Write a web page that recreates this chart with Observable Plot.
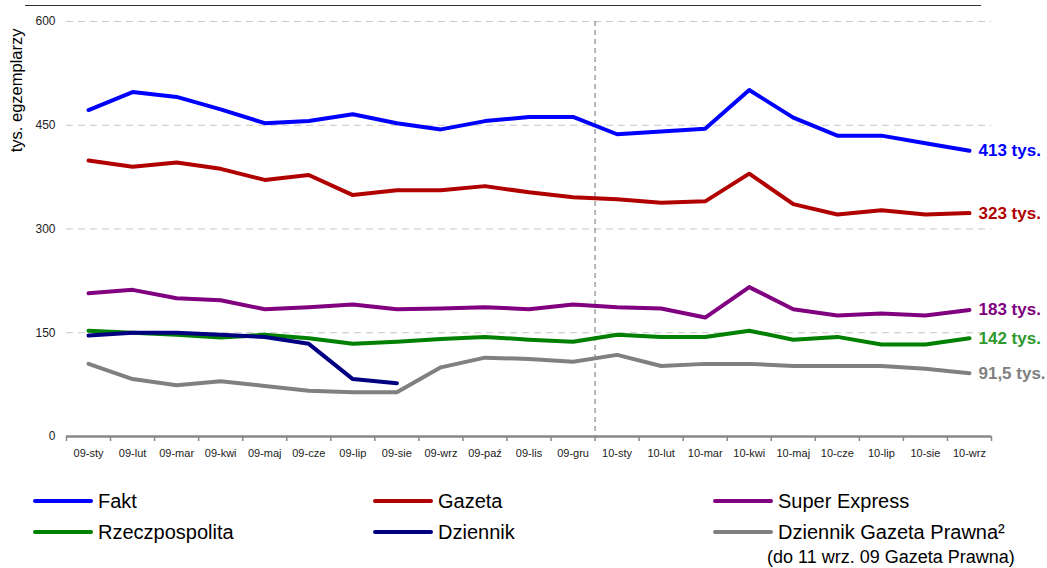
<!DOCTYPE html>
<html>
<head>
<meta charset="utf-8">
<script src="https://cdn.jsdelivr.net/npm/d3@7"></script>
<script src="https://cdn.jsdelivr.net/npm/@observablehq/plot@0.6"></script>
<style>
  body { margin: 0; background: #fff; font-family: "Liberation Sans", Arial, sans-serif; }
  #wrap { position: relative; width: 1047px; height: 568px; overflow: hidden; }
  #chart { position: absolute; left: 0; top: 0; }
  #topline { position: absolute; left: 25px; top: 5px; width: 956px; border-top: 1.5px solid #333; }
  .leg { position: absolute; height: 24px; line-height: 24px; font-size: 20px; color: #000; white-space: nowrap; }
  .leg .sw { position: absolute; left: 0; top: 10px; width: 60px; height: 4px; border-radius: 2px; }
  .leg .tx { position: absolute; left: 65px; top: 0; }
  .note { position: absolute; font-size: 18px; line-height: 22px; white-space: nowrap; color: #000; }
</style>
</head>
<body>
<div id="wrap">
  <div id="topline"></div>
  <div id="chart"></div>
  <div id="legend"></div>
</div>
<script>
// ---- data ----
const months = ["09-sty","09-lut","09-mar","09-kwi","09-maj","09-cze","09-lip","09-sie","09-wrz","09-paź","09-lis","09-gru",
                "10-sty","10-lut","10-mar","10-kwi","10-maj","10-cze","10-lip","10-sie","10-wrz"];
const seriesNames = ["Fakt","Gazeta","Super Express","Rzeczpospolita","Dziennik","Dziennik Gazeta Prawna²"];
const seriesColors = ["#0000ff","#b00000","#800080","#008000","#000080","#808080"];
const fakt          = [472,498,491,473,453,456,466,453,444,456,462,462,437,441,445,501,461,435,435,424,413];
const gazeta        = [399,390,396,387,371,378,349,356,356,362,353,346,343,338,340,380,336,321,327,321,323];
const superExpress  = [207,212,200,197,184,187,191,184,185,187,184,191,187,185,172,216,184,175,178,175,183];
const rzeczpospolita= [153,150,147,143,147,142,134,137,141,144,140,137,147,144,144,153,140,144,133,133,142];
const dziennik      = [146,150,150,147,144,134,83,77];
const dgp           = [105,83,74,80,73,66,64,64,100,114,112,108,118,102,105,105,102,102,102,98,91.5];
const yTicks = [0,150,300,450,600];
const endLabelSeries = ["Fakt","Gazeta","Super Express","Rzeczpospolita","Dziennik Gazeta Prawna²"];
const endLabelTexts  = ["413 tys.","323 tys.","183 tys.","142 tys.","91,5 tys."];
const endLabelColors = ["#0000ff","#b00000","#800080","#2e9a2e","#808080"];
const splitMonth = "10-sty";
const yTitle = "tys. egzemplarzy";
const legendNote = "(do 11 wrz. 09 Gazeta Prawna)";

// ---- build table ----
const seriesValues = [fakt, gazeta, superExpress, rzeczpospolita, dziennik, dgp];
const rows = seriesNames.flatMap((name, s) =>
  seriesValues[s].map((v, i) => ({i, v, name})));
const idx = months.map((m, i) => i);
const boundaries = months.map((m, i) => i - 0.5).concat([months.length - 0.5]);
const splitAt = months.indexOf(splitMonth) - 0.5;
const endLabels = endLabelSeries.map((name, k) => {
  const vals = seriesValues[seriesNames.indexOf(name)];
  return {i: vals.length - 1, v: vals[vals.length - 1], text: endLabelTexts[k], color: endLabelColors[k]};
});

const chart = Plot.plot({
  width: 1047,
  height: 470,
  marginLeft: 66,
  marginRight: 56,
  marginTop: 21,
  marginBottom: 34,
  x: {type: "linear", domain: [-0.5, months.length - 0.5], label: null},
  y: {domain: [0, 600], label: null},
  color: {domain: seriesNames, range: seriesColors},
  style: {fontFamily: "'Liberation Sans', Arial, sans-serif", fontSize: "11px", color: "#222", background: "transparent"},
  marks: [
    Plot.ruleY(yTicks.filter(t => t > 0), {stroke: "#c8c8c8", strokeDasharray: "7,5", strokeWidth: 1.2}),
    Plot.ruleX([splitAt], {stroke: "#888", strokeDasharray: "5,4", strokeWidth: 1.2}),
    Plot.axisY({ticks: yTicks, tickSize: 0, tickPadding: 11, label: null, fontSize: 12}),
    Plot.axisX({ticks: boundaries, tickSize: 5, tickFormat: () => "", stroke: "#888", strokeWidth: 1.5, label: null}),
    Plot.axisX({ticks: idx, tickSize: 0, tickPadding: 13, tickFormat: i => months[i], label: null, fontSize: 11}),
    Plot.ruleY([0], {stroke: "#888", strokeWidth: 2.5}),
    Plot.line(rows, {x: "i", y: "v", z: "name", stroke: "name", strokeWidth: 4, strokeLinejoin: "round", strokeLinecap: "round"}),
    Plot.text(endLabels, {x: "i", y: "v", text: "text", fill: "color", dx: 9, textAnchor: "start", fontWeight: "bold", fontSize: 17}),
    Plot.text([yTitle], {frameAnchor: "top-left", dx: -56, dy: 7, rotate: -90, textAnchor: "end", fontSize: 16.5, fill: "#000"})
  ]
});
document.getElementById("chart").appendChild(chart);

// ---- legend (HTML, below the SVG) ----
const legend = document.getElementById("legend");
const colX = [33, 373, 713], rowY = [489, 520];
seriesNames.forEach((name, k) => {
  const d = document.createElement("div");
  d.className = "leg";
  d.style.left = colX[k % 3] + "px";
  d.style.top = rowY[Math.floor(k / 3)] + "px";
  d.innerHTML = `<div class="sw" style="background:${seriesColors[k]}"></div><div class="tx"></div>`;
  d.querySelector(".tx").textContent = name;
  legend.appendChild(d);
});
const note = document.createElement("div");
note.className = "note";
note.style.left = "767px";
note.style.top = "546px";
note.textContent = legendNote;
legend.appendChild(note);
</script>
</body>
</html>
